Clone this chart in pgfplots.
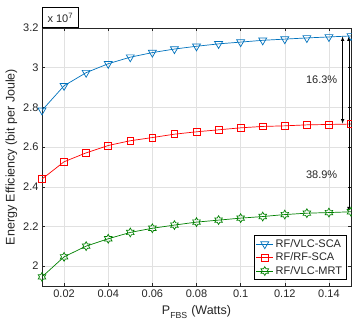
\documentclass[border=0pt]{standalone}
\usepackage{pgfplots}
\pgfplotsset{compat=1.18}
\usepackage{fontspec}
\setmainfont{Liberation Sans}
\definecolor{mblue}{RGB}{0,114,189}
\definecolor{mgreen}{RGB}{0,128,0}
\definecolor{mtext}{RGB}{38,38,38}
\definecolor{mgrid}{RGB}{225,225,225}
\pgfdeclareplotmark{hexagram}{%
  \pgfmathsetmacro{\ri}{\pgfplotmarksize/1.732}%
  \pgfpathmoveto{\pgfqpointpolar{90}{\pgfplotmarksize}}%
  \pgfpathlineto{\pgfpointpolar{120}{\ri pt}}%
  \pgfpathlineto{\pgfqpointpolar{150}{\pgfplotmarksize}}%
  \pgfpathlineto{\pgfpointpolar{180}{\ri pt}}%
  \pgfpathlineto{\pgfqpointpolar{210}{\pgfplotmarksize}}%
  \pgfpathlineto{\pgfpointpolar{240}{\ri pt}}%
  \pgfpathlineto{\pgfqpointpolar{270}{\pgfplotmarksize}}%
  \pgfpathlineto{\pgfpointpolar{300}{\ri pt}}%
  \pgfpathlineto{\pgfqpointpolar{330}{\pgfplotmarksize}}%
  \pgfpathlineto{\pgfpointpolar{0}{\ri pt}}%
  \pgfpathlineto{\pgfqpointpolar{30}{\pgfplotmarksize}}%
  \pgfpathlineto{\pgfpointpolar{60}{\ri pt}}%
  \pgfpathclose
  \pgfusepathqstroke}
\begin{document}
\begin{tikzpicture}
\begin{axis}[
  name=ax,
  scale only axis,
  width=309pt, height=258pt,
  xmin=0.01, xmax=0.15, ymin=1.9, ymax=3.2,
  xtick={0.02,0.04,0.06,0.08,0.1,0.12,0.14},
  xticklabels={0.02,0.04,0.06,0.08,0.1,0.12,0.14},
  ytick={2,2.2,2.4,2.6,2.8,3,3.2},
  yticklabels={2,2.2,2.4,2.6,2.8,3,3.2},
  tick label style={font=\fontsize{11}{13}\selectfont, text=mtext},
  label style={font=\fontsize{12.5}{14}\selectfont, text=mtext},
  xlabel={P\textsubscript{\raisebox{-2pt}{FBS}} (Watts)},
  ylabel={Energy Efficiency (bit per Joule)},
  xlabel style={yshift=-1pt},
  ylabel style={yshift=-1pt},
  grid=major,
  major grid style={mgrid, line width=0.5pt},
  axis line style={mtext, line width=0.6pt},
  tick style={mtext, line width=0.5pt},
  tick align=inside,
  major tick length=3pt,
  clip=false,
  legend style={at={(axis description cs:0.985,0.023)}, anchor=south east,
    draw=black, line width=0.6pt, font=\fontsize{11}{13}\selectfont, text=mtext,
    row sep=0pt, inner sep=2pt},
  legend cell align=left,
  legend image post style={line width=0.7pt},
  every axis plot/.append style={line width=0.7pt},
]
\addplot[mblue, mark=triangle, mark size=4.6pt, mark options={rotate=180, fill=none}] coordinates {
(0.01,2.785)(0.02,2.909)(0.03,2.975)(0.04,3.020)(0.05,3.053)(0.06,3.076)(0.07,3.094)
(0.08,3.108)(0.09,3.120)(0.10,3.129)(0.11,3.138)(0.12,3.144)(0.13,3.150)(0.14,3.155)(0.15,3.160)};
\addlegendentry{RF/VLC-SCA}
\addplot[red, mark=square, mark size=3.4pt] coordinates {
(0.01,2.439)(0.02,2.526)(0.03,2.571)(0.04,2.608)(0.05,2.632)(0.06,2.648)(0.07,2.665)
(0.08,2.677)(0.09,2.687)(0.10,2.697)(0.11,2.704)(0.12,2.707)(0.13,2.712)(0.14,2.714)(0.15,2.716)};
\addlegendentry{RF/RF-SCA}
\addplot[mgreen, mark=hexagram, mark size=4.4pt] coordinates {
(0.01,1.946)(0.02,2.047)(0.03,2.101)(0.04,2.138)(0.05,2.170)(0.06,2.191)(0.07,2.207)
(0.08,2.222)(0.09,2.232)(0.10,2.242)(0.11,2.250)(0.12,2.260)(0.13,2.267)(0.14,2.270)(0.15,2.274)};
\addlegendentry{RF/VLC-MRT}
\draw[<->, >=latex, black, line width=0.6pt] (axis cs:0.1462,3.158) -- (axis cs:0.1462,2.718);
\draw[<->, >=latex, black, line width=0.6pt] (axis cs:0.1490,3.158) -- (axis cs:0.1490,2.276);
\node[text=mtext, font=\fontsize{11}{13}\selectfont] at (axis cs:0.1367,2.94) {16.3\%};
\node[text=mtext, font=\fontsize{11}{13}\selectfont] at (axis cs:0.1367,2.46) {38.9\%};
\node[draw=black, line width=0.6pt, anchor=south west, inner sep=2pt, text=mtext,
  font=\fontsize{11}{13}\selectfont, minimum height=20pt, minimum width=36pt]
  at (rel axis cs:0,1) {x 10\textsuperscript{7}};
\end{axis}
\pgfresetboundingbox
\path ([xshift=-42pt,yshift=-38pt]ax.south west) rectangle ([xshift=1pt,yshift=28pt]ax.north east);
\end{tikzpicture}
\end{document}
